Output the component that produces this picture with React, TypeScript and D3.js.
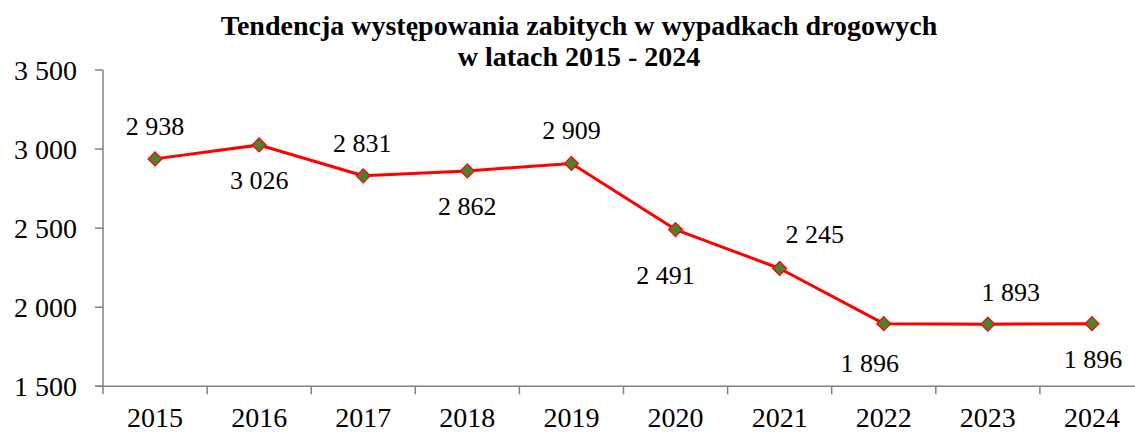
import React from "react";
import * as d3 from "d3";

const years = ["2015", "2016", "2017", "2018", "2019", "2020", "2021", "2022", "2023", "2024"];
const killed = [2938, 3026, 2831, 2862, 2909, 2491, 2245, 1896, 1893, 1896];
const yTicks = [1500, 2000, 2500, 3000, 3500];
const titleLines = ["Tendencja występowania zabitych w wypadkach drogowych", "w latach 2015 - 2024"];
// label placement relative to point (layout only)
const labelDx = [0, 0, -1, 0, 0, -10, 35, -14, 23, 1];
const labelDy = [-24, 44, -24, 44, -24, 54, -25, 48, -23, 44];

const W = 1135;
const H = 432;
const FONT = "'Liberation Serif', 'Times New Roman', serif";

function fmt(v: number): string {
  const s = String(Math.round(v));
  const th = Math.floor(v / 1000);
  return th > 0 ? `${th} ${s.slice(-3)}` : s;
}

export default function App() {
  const left = 103;
  const bandW = 104.1;
  const x = d3.scaleBand<string>().domain(years).range([left, left + bandW * years.length]).padding(0);
  const y = d3.scaleLinear().domain([1500, 3500]).range([386.3, 70]);
  const cx = (i: number) => (x(years[i]) as number) + x.bandwidth() / 2;
  const line = d3
    .line<number>()
    .x((_, i) => cx(i))
    .y((d) => y(d));
  const axisColor = "#808080";
  const [x0, x1] = x.range();
  const y0 = y(1500);
  const ts = { fontFamily: FONT } as React.CSSProperties;

  return (
    <div style={{ position: "fixed", left: 0, top: 0 }}>
      <svg width={W} height={H} style={{ display: "block", background: "#fff" }}>
        {titleLines.map((t, i) => (
          <text key={t} x={579} y={35 + i * 31} textAnchor="middle" fontSize={28} fontWeight="bold" fill="#000" style={ts}>
            {t}
          </text>
        ))}
        {/* y axis */}
        <line x1={left} x2={left} y1={y(3500)} y2={y0 + 8} stroke={axisColor} strokeWidth={1.5} />
        {yTicks.map((t) => (
          <g key={t}>
            <line x1={left - 8} x2={left} y1={y(t)} y2={y(t)} stroke={axisColor} strokeWidth={1.5} />
            <text x={77} y={y(t) + 10} textAnchor="end" fontSize={28} fill="#000" style={ts}>
              {fmt(t)}
            </text>
          </g>
        ))}
        {/* x axis */}
        <line x1={x0 - 8} x2={x1} y1={y0} y2={y0} stroke={axisColor} strokeWidth={1.5} />
        {years.map((yr, i) => (
          <g key={yr}>
            {i > 0 && (
              <line x1={x(yr)} x2={x(yr)} y1={y0} y2={y0 + 8} stroke={axisColor} strokeWidth={1.5} />
            )}
            <text x={cx(i)} y={y0 + 41} textAnchor="middle" fontSize={28} fill="#000" style={ts}>
              {yr}
            </text>
          </g>
        ))}
        {/* series */}
        <path d={line(killed) || ""} fill="none" stroke="#ff0000" strokeWidth={3} strokeLinejoin="round" />
        {killed.map((v, i) => {
          const px = cx(i);
          const py = y(v);
          const r = 7;
          return (
            <path
              key={i}
              d={`M${px},${py - r}L${px + r},${py}L${px},${py + r}L${px - r},${py}Z`}
              fill="#4f7f2f"
              stroke="#ff0000"
              strokeWidth={1.2}
            />
          );
        })}
        {killed.map((v, i) => (
          <text key={"l" + i} x={cx(i) + labelDx[i]} y={y(v) + labelDy[i]} textAnchor="middle" fontSize={26} fill="#000" style={ts}>
            {fmt(v)}
          </text>
        ))}
      </svg>
    </div>
  );
}
